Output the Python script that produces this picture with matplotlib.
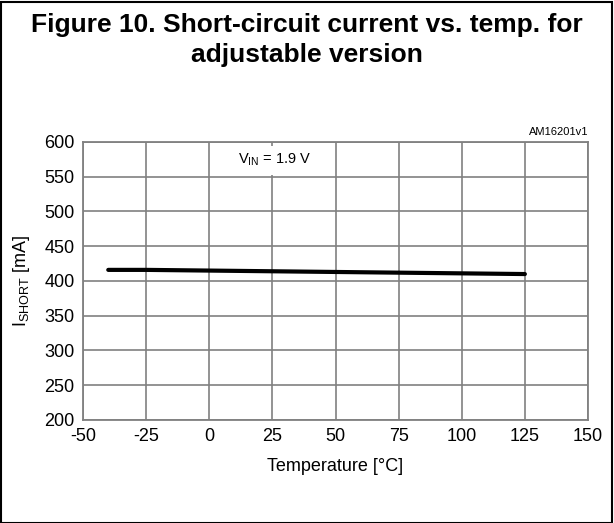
import matplotlib
matplotlib.use("Agg")
import matplotlib.pyplot as plt
from matplotlib.patches import Rectangle

plt.rcParams['font.family'] = ['Liberation Sans', 'DejaVu Sans']
plt.rcParams['mathtext.fontset'] = 'custom'
plt.rcParams['mathtext.rm'] = 'Liberation Sans'
plt.rcParams['mathtext.it'] = 'Liberation Sans'

temps = [-40, -25, 0, 25, 50, 75, 100, 125]
i_short = [416, 416, 415, 414, 413, 412, 411, 410]
x_ticks = [-50, -25, 0, 25, 50, 75, 100, 125, 150]
y_ticks = [200, 250, 300, 350, 400, 450, 500, 550, 600]

fig = plt.figure(figsize=(6.14, 5.23), dpi=100)
ax = fig.add_axes([83/614, 1-420/523, (588-83)/614, (420-142)/523])

grey = '#808080'
ax.set_xlim(-50, 150)
ax.set_ylim(200, 600)
ax.set_xticks(x_ticks)
ax.set_yticks(y_ticks)
ax.set_xticklabels([str(v) for v in x_ticks])
ax.set_yticklabels([str(v) for v in y_ticks])
ax.tick_params(length=0, labelsize=13, pad=6)
ax.grid(True, color=grey, linewidth=1.2)
ax.set_axisbelow(True)
for s in ax.spines.values():
    s.set_color(grey)
    s.set_linewidth(1.3)

ax.plot(temps, i_short, color='black', linewidth=3, solid_capstyle='round', zorder=3)

ax.set_xlabel('Temperature [°C]', fontsize=13, labelpad=9)
ax.set_ylabel(r'$\mathregular{I_{SHORT}}$ [mA]', fontsize=13, labelpad=9)

ax.text(26, 574, r'$\mathregular{V_{IN}}$ = 1.9 V', fontsize=10.5, ha='center', va='center',
        bbox=dict(facecolor='white', edgecolor='none', pad=4.5), zorder=2)

fig.text(588/614, 1-137/523, 'AM16201v1', fontsize=8, ha='right', va='bottom')

fig.text(0.5, 1-13/523, 'Figure 10. Short-circuit current vs. temp. for\nadjustable version',
         fontsize=19, fontweight='bold', ha='center', va='top', linespacing=1.32)

fig.patches.append(Rectangle((1.5/614, 0.5/523), 1-3.5/614, 1-2.5/523, transform=fig.transFigure,
                             fill=False, edgecolor='black', linewidth=1.5))

fig.savefig('out.png', dpi=100)
